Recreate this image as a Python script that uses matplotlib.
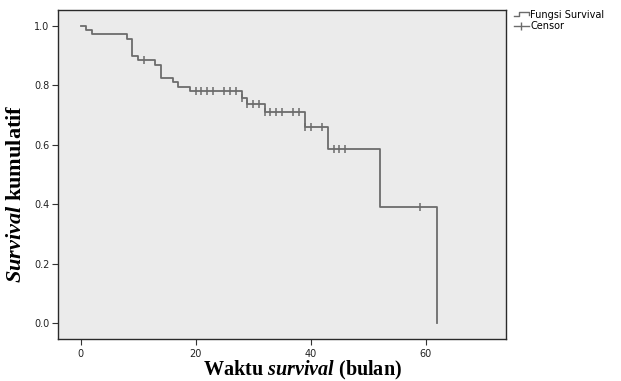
import matplotlib
matplotlib.use("Agg")
import matplotlib.pyplot as plt
import numpy as np
from matplotlib.lines import Line2D
from matplotlib.legend_handler import HandlerBase

# step times (bulan) and cumulative survival
times = [0, 1, 2, 8, 9, 10, 13, 14, 16, 17, 19, 28, 29, 32, 39, 43, 52, 62]
surv = [1.0, 0.986, 0.972, 0.957, 0.899, 0.884, 0.869, 0.824, 0.810, 0.794,
        0.780, 0.758, 0.736, 0.709, 0.659, 0.587, 0.390, 0.0]
# censored observations
censor_times = [11, 20, 21, 22, 23, 25, 26, 27, 28, 29, 30, 31, 32, 33, 34,
                35, 37, 38, 39, 40, 42, 44, 45, 46, 59]

xticks = [0, 20, 40, 60]
yticks = [0.0, 0.2, 0.4, 0.6, 0.8, 1.0]

line_col = '#6c6c6c'
bg_col = '#ebebeb'

plt.rcParams['mathtext.fontset'] = 'custom'
plt.rcParams['mathtext.rm'] = 'Liberation Serif:bold'
plt.rcParams['mathtext.it'] = 'Liberation Serif:italic:bold'
plt.rcParams['mathtext.bf'] = 'Liberation Serif:bold'


class StepHandler(HandlerBase):
    # small step glyph for the survival line in the legend
    def create_artists(self, legend, orig_handle, xdescent, ydescent,
                       width, height, fontsize, trans):
        x0 = -xdescent
        y0 = -ydescent
        xs = [x0, x0 + 0.35*width, x0 + 0.35*width, x0 + width, x0 + width]
        ys = [y0 + 0.25*height, y0 + 0.25*height, y0 + 0.85*height,
              y0 + 0.85*height, y0 + 0.45*height]
        ln = Line2D(xs, ys, color=line_col, lw=1.0, transform=trans)
        return [ln]


fig = plt.figure(figsize=(6.21, 3.81), dpi=100)
ax = fig.add_axes([58/621, 1-339/381, 448/621, 329/381])
ax.set_facecolor(bg_col)

ax.step(times, surv, where='post', color=line_col, lw=1.3)

t_arr = np.array(times)
s_arr = np.array(surv)
idx = np.searchsorted(t_arr, censor_times, side='right') - 1
ax.plot(censor_times, s_arr[idx], linestyle='none', marker='|',
        markersize=6, markeredgewidth=1.1, color=line_col)

ax.set_xlim(-3.95, 74)
ax.set_ylim(-0.054, 1.054)
ax.set_xticks(xticks)
ax.set_yticks(yticks)
ax.set_yticklabels(['%.1f' % v for v in yticks])

for sp in ax.spines.values():
    sp.set_color('#2a2a2a')
    sp.set_linewidth(1.0)

ax.tick_params(axis='both', direction='out', length=4, width=0.8,
               color='#333333', labelsize=7, labelcolor='#222222', pad=2)
ax.tick_params(axis='x', pad=3)

ax.set_xlabel(r'Waktu $\mathit{survival}$ (bulan)', family='Liberation Serif',
              fontsize=14.5, fontweight='bold')
ax.set_ylabel(r'$\mathit{Survival}$ kumulatif', family='Liberation Serif',
              fontsize=16, fontweight='bold')
ax.xaxis.set_label_coords(0.546, -0.062)
ax.yaxis.set_label_coords(-0.072, 0.44)

h1 = Line2D([], [], color=line_col)
h2 = Line2D([], [], color=line_col, lw=1.0, marker='|', markersize=6)
leg = ax.legend([h1, h2], ['Fungsi Survival', 'Censor'],
                handler_map={h1: StepHandler()},
                loc='upper left', bbox_to_anchor=(514/621, 1-10/381),
                bbox_transform=fig.transFigure, frameon=False,
                fontsize=7, handlelength=1.5, handletextpad=0.15,
                labelspacing=0.15, borderpad=0, borderaxespad=0, numpoints=1)

fig.savefig('out.png', dpi=100)
